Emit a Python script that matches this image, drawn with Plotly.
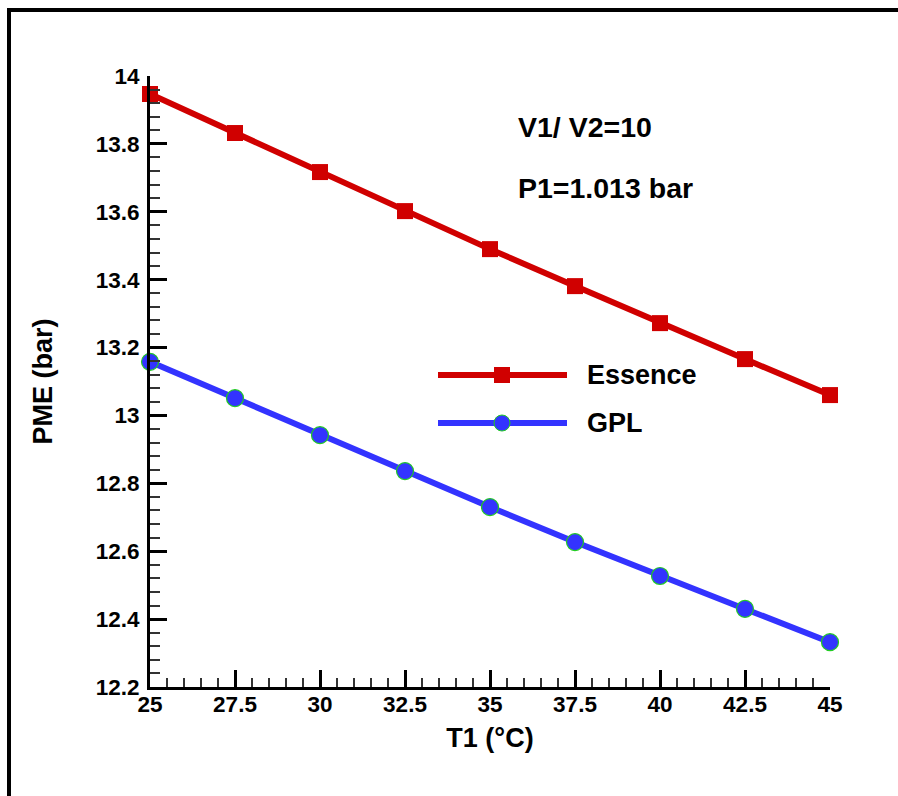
import plotly.graph_objects as go

# Inlet temperature T1 (°C)
t1 = [25, 27.5, 30, 32.5, 35, 37.5, 40, 42.5, 45]
# Mean effective pressure (bar) for each fuel
pme_essence = [13.947, 13.832, 13.717, 13.602, 13.490, 13.381, 13.272, 13.166, 13.060]
pme_gpl = [13.158, 13.051, 12.942, 12.836, 12.730, 12.627, 12.527, 12.430, 12.332]

series_names = ["Essence", "GPL"]
x_ticks = [25, 27.5, 30, 32.5, 35, 37.5, 40, 42.5, 45]
x_tick_text = ["25", "27.5", "30", "32.5", "35", "37.5", "40", "42.5", "45"]
y_ticks = [12.2, 12.4, 12.6, 12.8, 13.0, 13.2, 13.4, 13.6, 13.8, 14.0]
y_tick_text = ["12.2", "12.4", "12.6", "12.8", "13", "13.2", "13.4", "13.6", "13.8", "14"]

RED = "#d00000"
BLUE = "#3333ff"
FONT = "Liberation Sans"

fig = go.Figure()
fig.add_trace(go.Scatter(
    x=t1, y=pme_essence, name=series_names[0], mode="lines+markers",
    line=dict(color=RED, width=6),
    marker=dict(symbol="square", size=16, color=RED, line=dict(width=0)),
    cliponaxis=False, showlegend=False,
))
fig.add_trace(go.Scatter(
    x=t1, y=pme_gpl, name=series_names[1], mode="lines+markers",
    line=dict(color=BLUE, width=6),
    marker=dict(symbol="circle", size=17, color=BLUE, line=dict(width=1.2, color="#22cc22")),
    cliponaxis=False, showlegend=False,
))

W, H = 898, 796
L, R, T, B = 150, 68, 76, 109
pw, ph = W - L - R, H - T - B


def px(xp):
    return (xp - L) / pw


def py(yp):
    return (H - B - yp) / ph


shapes = []
# outer frame
shapes.append(dict(type="rect", xref="paper", yref="paper",
                   x0=px(9), x1=px(W + 20), y0=py(H + 20), y1=py(10),
                   line=dict(color="black", width=4), fillcolor="rgba(0,0,0,0)", layer="below"))

# legend samples
legend_rows = [(375, RED, "square", series_names[0]), (423, BLUE, "circle", series_names[1])]
annotations = []
for yrow, col, sym, label in legend_rows:
    shapes.append(dict(type="line", xref="paper", yref="paper",
                       x0=px(438), x1=px(567), y0=py(yrow), y1=py(yrow),
                       line=dict(color=col, width=6)))
    shapes.append(dict(type="rect" if sym == "square" else "circle",
                       xref="paper", yref="paper",
                       xsizemode="pixel", ysizemode="pixel",
                       xanchor=px(502), yanchor=py(yrow),
                       x0=-8, x1=8, y0=-8, y1=8,
                       fillcolor=col,
                       line=dict(color=col if sym == "square" else "#22cc22", width=1 if sym == "circle" else 0)))
    annotations.append(dict(xref="paper", yref="paper", x=px(585), y=py(yrow),
                            xanchor="left", yanchor="middle", showarrow=False,
                            text="<b>%s</b>" % label,
                            font=dict(family=FONT, size=27, color="black")))

annotations.append(dict(xref="paper", yref="paper", x=px(516), y=py(127),
                        xanchor="left", yanchor="middle", showarrow=False,
                        text="<b>V1/ V2=10</b>", font=dict(family=FONT, size=28.5, color="black")))
annotations.append(dict(xref="paper", yref="paper", x=px(516), y=py(188),
                        xanchor="left", yanchor="middle", showarrow=False,
                        text="<b>P1=1.013 bar</b>", font=dict(family=FONT, size=28.5, color="black")))

axis_common = dict(
    showgrid=False, zeroline=False, showline=True, linecolor="black", linewidth=3,
    ticks="inside", tickcolor="black", tickwidth=3, ticklen=17,
    tickfont=dict(family=FONT, size=22.5, color="black"),
    mirror=False,
)

fig.update_layout(
    width=W, height=H,
    margin=dict(l=L, r=R, t=T, b=B, pad=0),
    paper_bgcolor="white", plot_bgcolor="white",
    font=dict(family=FONT, color="black"),
    xaxis=dict(
        range=[25, 45], tickvals=x_ticks, ticktext=["<b>%s</b>" % s for s in x_tick_text],
        minor=dict(dtick=0.5, tick0=25, ticks="inside", ticklen=9, tickwidth=1.5, tickcolor="#333"),
        title=dict(text="<b>T1 (°C)</b>", font=dict(family=FONT, size=27, color="black"), standoff=13),
        ticklabelstandoff=-5,
        **axis_common,
    ),
    yaxis=dict(
        range=[12.2, 14], tickvals=y_ticks, ticktext=["<b>%s</b>" % s for s in y_tick_text],
        minor=dict(dtick=0.04, tick0=12.2, ticks="inside", ticklen=10, tickwidth=1.5, tickcolor="#333"),
        title=dict(text="<b>PME (bar)</b>", font=dict(family=FONT, size=27, color="black"), standoff=36),
        ticklabelstandoff=3,
        **axis_common,
    ),
    shapes=shapes,
    annotations=annotations,
)

fig.write_html("out.html")
